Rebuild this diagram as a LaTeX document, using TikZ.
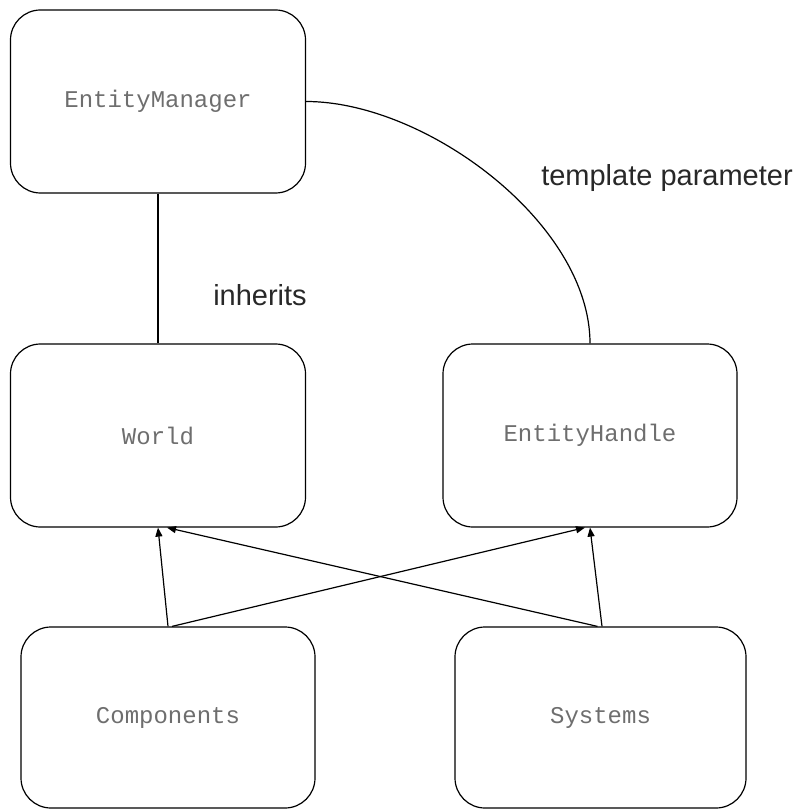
\documentclass[tikz,border=0pt]{standalone}
\usepackage{fontspec}
\setmainfont{Liberation Sans}
\setmonofont{Liberation Mono}
\usetikzlibrary{arrows.meta,positioning}
\definecolor{boxtext}{RGB}{110,110,110}
\definecolor{lbltext}{RGB}{40,40,40}

\begin{document}
\begin{tikzpicture}[
  x=1pt, y=-1pt,
  cls/.style={draw, line width=1.2pt, rounded corners=30pt, inner sep=0pt,
    minimum width=295pt, minimum height=183pt,
    font=\fontsize{24}{28}\selectfont\ttfamily, text=boxtext},
  lbl/.style={font=\fontsize{29}{34}\selectfont, text=lbltext},
  link/.style={line width=1.2pt},
  arr/.style={line width=1.2pt, -{Triangle[length=9pt, width=7pt]}},
]
\useasboundingbox (0,0) rectangle (801,810);
% classes
\node[cls] (em) at (158,101.5) {EntityManager};
\node[cls] (world) at (158,435.5) {World};
\node[cls, minimum width=294pt] (handle) at (590,435.5) {EntityHandle};
\node[cls, minimum width=294pt, minimum height=181pt] (comp) at (168,717.5) {Components};
\node[cls, minimum width=291pt, minimum height=181pt] (sys) at (600.5,717.5) {Systems};
% inheritance and template link
\draw[link] (em.south) -- (world.north);
\draw[link] (em.east) .. controls +(120,0) and +(0,-120) .. (handle.north);
\node[lbl] (inh) at (260,295) {inherits};
\node[lbl] (tpl) at (667,178) {template parameter};
% uses
\draw[arr] (comp.north) -- (world.south);
\draw[arr] ([xshift=4pt]comp.north) -- ([xshift=-5pt]handle.south);
\draw[arr] ([xshift=-3pt]sys.north) -- ([xshift=9pt]world.south);
\draw[arr] ([xshift=1.5pt]sys.north) -- (handle.south);
\end{tikzpicture}
\end{document}
